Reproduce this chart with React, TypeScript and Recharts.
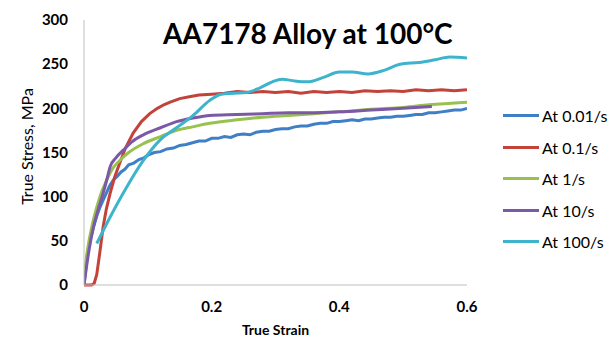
import { LineChart, Line, XAxis, YAxis } from "recharts";

const FONT = "Lato, 'Open Sans', sans-serif";

const xTicks = [0, 0.2, 0.4, 0.6];
const yTicks = [0, 50, 100, 150, 200, 250, 300];

// strain values / stress values
const blueX = [0, 0.003, 0.006, 0.01, 0.015, 0.02, 0.025, 0.03, 0.035, 0.04, 0.046, 0.052, 0.058, 0.064, 0.07, 0.078, 0.086, 0.094,
  0.1, 0.11, 0.12, 0.13, 0.14, 0.15, 0.16, 0.17, 0.18, 0.19, 0.2, 0.21, 0.22, 0.23, 0.24, 0.25, 0.26, 0.27, 0.28, 0.29, 0.3,
  0.31, 0.32, 0.33, 0.34, 0.35, 0.36, 0.37, 0.38, 0.39, 0.4, 0.41, 0.42, 0.43, 0.44, 0.45, 0.46, 0.47, 0.48, 0.49, 0.5,
  0.51, 0.52, 0.53, 0.54, 0.55, 0.56, 0.57, 0.58, 0.59, 0.6];
const blueY = [0, 20, 38, 52, 66, 78, 88, 96, 104, 112, 119, 123, 128, 131, 136, 138, 142, 144,
  147, 150, 151, 154, 155, 158, 159, 161, 163, 163, 166, 166, 168, 167, 170, 171, 170, 173, 174, 174, 176,
  177, 177, 179, 180, 180, 182, 183, 183, 185, 185, 186, 187, 186, 188, 188, 189, 190, 190, 191, 191,
  192, 193, 193, 195, 195, 196, 197, 198, 198, 200];

const redX = [0, 0.012, 0.016, 0.02, 0.025, 0.03, 0.035, 0.041, 0.048, 0.056, 0.065, 0.077, 0.09, 0.103, 0.115, 0.125, 0.135,
  0.15, 0.165, 0.18, 0.2, 0.22, 0.24, 0.26, 0.28, 0.3, 0.32, 0.34, 0.36, 0.38, 0.4, 0.42, 0.44, 0.46, 0.48, 0.5,
  0.52, 0.54, 0.56, 0.58, 0.6];
const redY = [0, 0, 2, 12, 38, 66, 86, 104, 122, 138, 155, 172, 185, 194, 200, 204, 207,
  211, 213, 215, 216, 217, 219, 218, 219, 218, 219, 217, 219, 218, 219, 218, 220, 219, 220, 219,
  221, 220, 221, 220, 221];

const greenX = [0, 0.002, 0.006, 0.012, 0.02, 0.028, 0.035, 0.045, 0.056, 0.07, 0.093, 0.12, 0.145, 0.17, 0.197,
  0.24, 0.28, 0.32, 0.36, 0.4, 0.45, 0.5, 0.54, 0.6];
const greenY = [0, 20, 42, 65, 88, 106, 118, 132, 141, 150, 160, 168, 175, 179, 183,
  187, 190, 192, 194, 196, 199, 201, 204, 207];

const purpleX = [0, 0.004, 0.008, 0.015, 0.022, 0.03, 0.036, 0.041, 0.05, 0.062, 0.075, 0.093, 0.12, 0.145, 0.17, 0.197,
  0.24, 0.28, 0.32, 0.36, 0.4, 0.45, 0.5, 0.545];
const purpleY = [0, 21, 40, 66, 85, 104, 120, 134, 144, 153, 162, 170, 178, 185, 189, 192,
  193, 194, 195, 195, 196, 198, 200, 202];

const cyanX = [0.02, 0.041, 0.067, 0.093, 0.119, 0.145, 0.171, 0.197, 0.215, 0.235, 0.255, 0.275, 0.295, 0.31, 0.33, 0.35,
  0.375, 0.4, 0.42, 0.445, 0.47, 0.495, 0.525, 0.55, 0.573, 0.6];
const cyanY = [47, 77, 111, 141, 164, 178, 192, 209, 216, 217, 218, 223, 230, 233, 231, 230,
  235, 241, 241, 239, 243, 250, 252, 255, 258, 257];

const toPoints = (xs: number[], ys: number[]) => xs.map((x, i) => ({ x, y: ys[i] }));

const series = [
  { name: "At 0.01/s", color: "#3F7FC6", data: toPoints(blueX, blueY), type: "linear" },
  { name: "At 0.1/s", color: "#C3433A", data: toPoints(redX, redY), type: "linear" },
  { name: "At 1/s", color: "#98C14F", data: toPoints(greenX, greenY), type: "monotone" },
  { name: "At 10/s", color: "#7B59A6", data: toPoints(purpleX, purpleY), type: "monotone" },
  { name: "At 100/s", color: "#3DB3CC", data: toPoints(cyanX, cyanY), type: "monotone" },
];

const tickStyle = { fontFamily: FONT, fontSize: 15, fontWeight: 700, fill: "#000" };

export default function App() {
  return (
    <div style={{ position: "absolute", left: 0, top: 0, width: 608, height: 339, background: "#fff", overflow: "hidden" }}>
      <LineChart width={608} height={339} margin={{ top: 20, right: 141, bottom: 0, left: 0 }}>
        <XAxis
          type="number"
          dataKey="x"
          domain={[0, 0.6]}
          ticks={xTicks}
          allowDataOverflow
          tickLine={false}
          tickSize={0}
          tickMargin={16}
          height={54}
          stroke="#BFBFBF"
          tick={tickStyle}
          label={{ value: "True Strain", position: "center", dy: 18, style: { fontFamily: FONT, fontSize: 14, fontWeight: 700, fill: "#000" } }}
        />
        <YAxis
          type="number"
          dataKey="y"
          domain={[0, 300]}
          ticks={yTicks}
          tickLine={false}
          tickSize={0}
          tickMargin={16}
          width={84}
          stroke="#BFBFBF"
          tick={tickStyle}
          label={{ value: "True Stress, MPa", angle: -90, position: "center", dx: -15, dy: -6, style: { fontFamily: FONT, fontSize: 16, fill: "#000" } }}
        />
        {series.map((s) => (
          <Line
            key={s.name}
            data={s.data}
            dataKey="y"
            name={s.name}
            type={s.type as any}
            stroke={s.color}
            strokeWidth={3}
            dot={false}
            isAnimationActive={false}
          />
        ))}
      </LineChart>
      <div
        style={{
          position: "absolute",
          left: 163,
          top: 16,
          fontFamily: FONT,
          fontWeight: 700,
          fontSize: 28,
          whiteSpace: "nowrap",
          color: "#000",
        }}
      >
        AA7178 Alloy at 100°C
      </div>
      <div style={{ position: "absolute", left: 503, top: 100 }}>
        {series.map((s) => (
          <div key={s.name} style={{ display: "flex", alignItems: "center", height: 31.5 }}>
            <div style={{ width: 36, height: 3, background: s.color, marginRight: 3 }} />
            <span style={{ fontFamily: FONT, fontSize: 16, color: "#000" }}>{s.name}</span>
          </div>
        ))}
      </div>
    </div>
  );
}
